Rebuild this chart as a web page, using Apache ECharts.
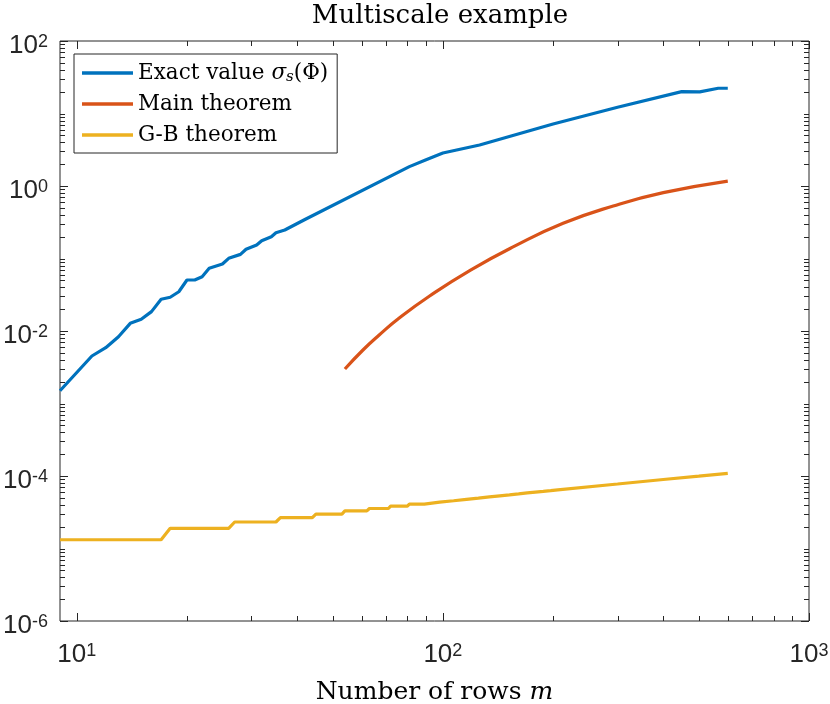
<!DOCTYPE html>
<html>
<head>
<meta charset="utf-8">
<title>Multiscale example</title>
<script src="https://cdn.jsdelivr.net/npm/echarts@6/dist/echarts.min.js"></script>
<style>
  html, body { margin: 0; padding: 0; background: #fff; }
  #chart { width: 830px; height: 704px; }
</style>
</head>
<body>
<div id="chart"></div>
<script>
// exact value sigma_s(Phi)
const exactM = [9, 11, 12, 13, 14, 15, 16, 17, 18, 19, 20, 21, 22, 23, 25, 26, 28, 29, 31, 32, 34, 35, 37, 42, 81, 90, 100, 126, 200, 300, 449, 503, 565, 600]
const exactVal = [1.50e-3, 4.52e-3, 5.89e-3, 8.34e-3, 1.276e-2, 1.45e-2, 1.85e-2, 2.74e-2, 2.92e-2, 3.48e-2, 5.05e-2, 5.05e-2, 5.61e-2, 7.32e-2, 8.39e-2, 0.1006, 0.114, 0.134, 0.1535, 0.176, 0.200, 0.227, 0.247, 0.345, 1.85, 2.30, 2.85, 3.68, 7.16, 12.2, 20.0, 19.9, 22.3, 22.3]

// main theorem bound
const mainM = [54, 60.5, 67, 76, 92, 119, 156, 213, 292, 400, 600]
const mainVal = [2.99e-3, 5.47e-3, 8.8e-3, 1.51e-2, 3.04e-2, 6.93e-2, 0.1456, 0.306, 0.53, 0.809, 1.17]

// G-B theorem bound: flat levels, each one held for 9 rows
const gbStepStart = [9, 18, 27, 36, 45, 54, 63, 72, 81, 90, 99, 108, 117, 126, 135, 144, 153, 162, 171, 180, 189, 198]
const gbStepVal = [1.32e-5, 1.90e-5, 2.32e-5, 2.67e-5, 2.98e-5, 3.30e-5, 3.56e-5, 3.84e-5, 4.10e-5, 4.35e-5, 4.56e-5, 4.77e-5, 4.96e-5, 5.15e-5, 5.33e-5, 5.50e-5, 5.67e-5, 5.84e-5, 6.00e-5, 6.15e-5, 6.30e-5, 6.45e-5]
const gbTailM = [300, 400, 500, 600]
const gbTailVal = [7.76e-5, 8.95e-5, 9.95e-5, 1.089e-4]

// axis ticks
const xMajorTicks = [10, 100, 1000]
const xMinorTicks = [20, 30, 40, 50, 60, 70, 80, 90, 200, 300, 400, 500, 600, 700, 800, 900]
const yMajorTicks = [1e-6, 1e-4, 1e-2, 1, 100]
const yMinorTicks = []
;[-6, -5, -4, -3, -2, -1, 0, 1].forEach(e => {
  [1, 2, 3, 4, 5, 6, 7, 8, 9].forEach(d => {
    const v = d * Math.pow(10, e)
    if (yMajorTicks.indexOf(v) < 0) yMinorTicks.push(Number(v.toPrecision(3)))
  })
})

const names = ['Exact value σs(Φ)', 'Main theorem', 'G-B theorem']
const colors = ['#0072BD', '#D95319', '#EDB120']
const axisColor = '#262626'
const serif = 'DejaVu Serif'
const sans = 'Liberation Sans'

const zip = (xs, ys) => xs.map((x, i) => [x, ys[i]])

const gbData = []
gbStepStart.forEach((m, i) => {
  gbData.push([m, gbStepVal[i]])
  gbData.push([m + 8, gbStepVal[i]])
})
gbTailM.forEach((m, i) => gbData.push([m, gbTailVal[i]]))

const tickData = []
xMajorTicks.forEach(v => tickData.push([v, 1, 0, 8]))
xMinorTicks.forEach(v => tickData.push([v, 1, 0, 5]))
yMajorTicks.forEach(v => tickData.push([10, v, 1, 8]))
yMinorTicks.forEach(v => tickData.push([10, v, 1, 5]))

function renderTick(params, api) {
  const cs = params.coordSys
  const len = api.value(3)
  const p = api.coord([api.value(0), api.value(1)])
  const style = { stroke: axisColor, lineWidth: 1 }
  if (api.value(2) === 0) {
    const x = Math.round(p[0]) + 0.5
    const bottom = cs.y + cs.height
    return {
      type: 'group',
      children: [
        { type: 'line', shape: { x1: x, y1: bottom, x2: x, y2: bottom - len }, style },
        { type: 'line', shape: { x1: x, y1: cs.y, x2: x, y2: cs.y + len }, style }
      ]
    }
  }
  const y = Math.round(p[1]) + 0.5
  const right = cs.x + cs.width
  return {
    type: 'group',
    children: [
      { type: 'line', shape: { x1: cs.x, y1: y, x2: cs.x + len, y2: y }, style },
      { type: 'line', shape: { x1: right, y1: y, x2: right - len, y2: y }, style }
    ]
  }
}

function powLabel(keepOdd) {
  return function (v) {
    const e = Math.log10(v)
    const r = Math.round(e)
    if (Math.abs(e - r) > 1e-6) return ''
    if (!keepOdd && r % 2 !== 0) return ''
    return '{b|10}{e|' + r + '}'
  }
}

const labelRich = {
  b: { fontFamily: sans, fontSize: 26, color: axisColor, lineHeight: 26, verticalAlign: 'bottom' },
  e: { fontFamily: sans, fontSize: 18, color: axisColor, lineHeight: 18, verticalAlign: 'top', padding: [0, 0, 15, 0] }
}

const lineSeries = (i, data, smooth) => ({
  name: names[i],
  type: 'line',
  data: data,
  symbol: 'none',
  smooth: smooth,
  silent: true,
  lineStyle: { color: colors[i], width: 3.2 },
  itemStyle: { color: colors[i] },
  z: 3
})

const chart = echarts.init(document.getElementById('chart'))
chart.setOption({
  animation: false,
  backgroundColor: '#fff',
  title: {
    text: 'Multiscale example',
    left: 435,
    top: -2,
    textAlign: 'center',
    textStyle: { fontFamily: serif, fontSize: 26, fontWeight: 'normal', color: '#000' }
  },
  grid: {
    left: 60, right: 21, top: 41, bottom: 83,
    outerBoundsMode: 'none',
    containLabel: false,
    show: true, borderColor: axisColor, borderWidth: 1, backgroundColor: '#fff'
  },
  legend: {
    data: names,
    orient: 'vertical',
    left: 74,
    top: 54,
    padding: [7, 9, 6, 8],
    itemGap: 7,
    icon: 'rect',
    itemWidth: 51,
    itemHeight: 3.4,
    backgroundColor: '#fff',
    borderColor: axisColor,
    borderWidth: 1,
    selectedMode: false,
    formatter: name => name === names[0] ? 'Exact value {i|σ}{s|s}(Φ)' : name,
    textStyle: {
      fontFamily: serif, fontSize: 21.5, color: '#000', lineHeight: 24,
      rich: {
        i: { fontFamily: serif, fontSize: 21.5, fontStyle: 'italic', color: '#000' },
        s: { fontFamily: serif, fontSize: 15, fontStyle: 'italic', color: '#000', padding: [9, 0, 0, 0] }
      }
    }
  },
  xAxis: {
    type: 'log',
    logBase: 10,
    min: 9,
    max: 1000,
    splitNumber: 2,
    name: '{n|Number of rows }{i|m}',
    nameLocation: 'middle',
    nameGap: 56,
    nameTextStyle: {
      rich: {
        n: { fontFamily: serif, fontSize: 25, color: '#000' },
        i: { fontFamily: serif, fontSize: 25, color: '#000', fontStyle: 'italic' }
      }
    },
    axisLine: { show: false },
    axisTick: { show: false },
    splitLine: { show: false },
    axisLabel: { margin: 21, formatter: powLabel(true), rich: labelRich }
  },
  yAxis: {
    type: 'log',
    logBase: 10,
    min: 1e-6,
    max: 100,
    splitNumber: 8,
    axisLine: { show: false },
    axisTick: { show: false },
    splitLine: { show: false },
    axisLabel: { margin: 12, padding: [10, 0, 0, 0], formatter: powLabel(false), rich: labelRich }
  },
  series: [
    lineSeries(0, zip(exactM, exactVal), false),
    lineSeries(1, zip(mainM, mainVal), true),
    lineSeries(2, gbData, false),
    {
      type: 'custom',
      silent: true,
      renderItem: renderTick,
      data: tickData,
      encode: { x: 0, y: 1 },
      z: 4
    }
  ]
})
window.addEventListener('resize', () => chart.resize())
</script>
</body>
</html>
